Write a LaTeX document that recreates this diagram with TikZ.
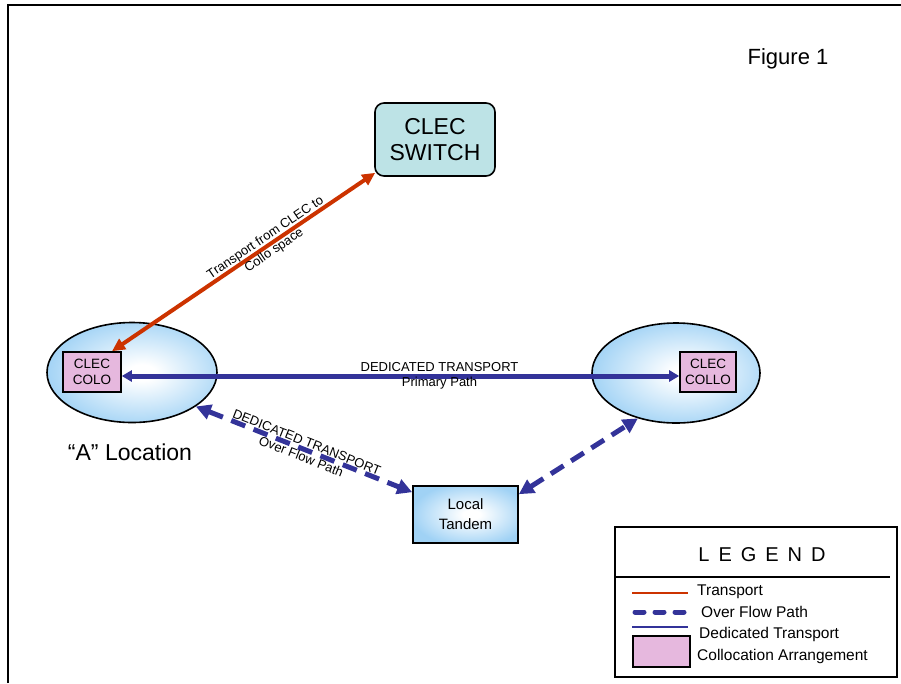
\documentclass[tikz,border=0pt]{standalone}
\usepackage{fontspec}
\setmainfont{Liberation Sans}
\usetikzlibrary{shapes.geometric,arrows.meta}

\definecolor{transp}{HTML}{CC3300}
\definecolor{dedic}{HTML}{333399}
\definecolor{colofill}{HTML}{E6B8DE}
\definecolor{switchfill}{HTML}{BDE3E6}
\definecolor{skyb}{HTML}{A0D2F5}

% soft white-to-blue glow for the sites and the tandem
\pgfdeclareradialshading{glow}{\pgfpoint{3bp}{0bp}}{color(0bp)=(white); color(4bp)=(white); color(28bp)=(skyb); color(100bp)=(skyb)}

\newcommand\fs[1]{\fontsize{#1}{1.2\dimexpr#1pt\relax}\selectfont}

\begin{document}
\begin{tikzpicture}[x=1pt,y=-1pt,
  site/.style={ellipse, draw, line width=1.6pt, shading=glow,
    minimum width=170pt, minimum height=100pt, inner sep=0pt},
  colobox/.style={rectangle, draw, line width=1.6pt, fill=colofill,
    minimum width=58pt, minimum height=40pt, inner sep=0pt, align=center,
    font=\fontsize{13.5}{16}\selectfont},
  switchbox/.style={rectangle, rounded corners=9pt, draw, line width=1.6pt,
    fill=switchfill, minimum width=120pt, minimum height=73pt, inner sep=0pt,
    align=center, font=\fontsize{23}{26}\selectfont},
  tandembox/.style={rectangle, draw, line width=1.6pt, shading=glow,
    minimum width=105pt, minimum height=57pt, inner sep=0pt, align=center,
    font=\fontsize{15}{20}\selectfont},
  linklabel/.style={sloped, align=center, inner sep=0pt, text=black,
    font=\fontsize{13}{15.4}\selectfont},
  transportlink/.style={transp, line width=4pt,
    {Triangle[length=13pt,width=12pt]}-{Triangle[length=13pt,width=12pt]}},
  primarylink/.style={dedic, line width=5pt,
    {Triangle[length=10pt,width=11pt]}-{Triangle[length=10pt,width=11pt]}},
  overflowlink/.style={dedic, line width=5pt, dash pattern=on 15pt off 9pt,
    {Triangle[length=15pt,width=15pt]}-{Triangle[length=15pt,width=15pt]}},
  legendtext/.style={anchor=west, inner sep=0pt, font=\fontsize{15.5}{18}\selectfont}
]
\useasboundingbox (0,0) rectangle (901,683);

% page frame
\draw[line width=2.5pt] (8,683) -- (8,5) -- (901,5);

% title
\node[font=\fs{22}] (fig) at (788,59) {Figure 1};

% sites
\node[site] (ellA) at (132,372.5) {};
\node[site, minimum width=168pt] (ellB) at (676,373) {};
\node[colobox] (coloA) at (92,372) {CLEC\\COLO};
\node[colobox, minimum width=56pt] (coloB) at (708,372) {CLEC\\COLLO};
\node[font=\fs{23}] (locA) at (130,452) {“A” Location};

% switch and tandem
\node[switchbox] (switch) at (435,139.5) {CLEC\\SWITCH};
\node[tandembox] (tandem) at (465.5,514.5) {Local\\Tandem};

% connectors
\coordinate (oA) at ([xshift=20pt]coloA.north);
\coordinate (oS) at ([shift={(1pt,4pt)}]switch.south west);
\draw[transportlink] (oA) -- (oS)
  node[linklabel, pos=0.6] (lblT) {Transport from CLEC to\\Collo space};

\draw[primarylink] ([yshift=-4pt]coloA.east) -- ([yshift=-4pt]coloB.west)
  node[linklabel, pos=0.57] (lblP) {DEDICATED TRANSPORT\\Primary Path};

\draw[overflowlink] (ellA.-28) -- ([yshift=-7pt]tandem.north west)
  node[linklabel, midway] (lblO) {DEDICATED TRANSPORT\\Over Flow Path};

\draw[overflowlink] ([yshift=-9pt]tandem.north east) -- (ellB.-130);

% legend
\draw[line width=1.6pt] (615,527) rectangle (897,677);
\draw[line width=2pt] (615,577) -- (890,577);
\node[font=\fs{20}] (legtitle) at (762,555)
  {L\hspace{9pt}E\hspace{9pt}G\hspace{9pt}E\hspace{9pt}N\hspace{9pt}D};

\draw[transp, line width=2pt] (632,593) -- (688,593);
\node[legendtext] (legT) at (697,592) {Transport};

\draw[dedic, line width=5pt, line cap=round, dash pattern=on 9pt off 11pt] (635,612) -- (688,612);
\node[legendtext] (legO) at (701,611.5) {Over Flow Path};

\draw[dedic, line width=2pt] (632,627) -- (688,627);
\node[legendtext] (legD) at (699,634) {Dedicated Transport};

\draw[line width=2pt, fill=colofill] (633,636) rectangle (690,667);
\node[legendtext] (legC) at (697,656) {Collocation Arrangement};
\end{tikzpicture}
\end{document}
